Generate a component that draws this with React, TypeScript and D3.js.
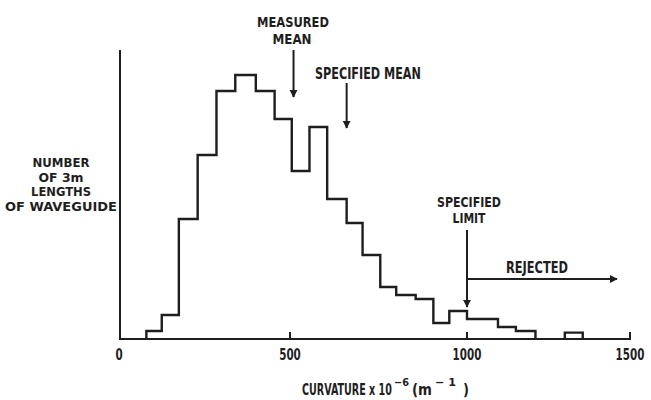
import { useLayoutEffect, useRef, useState } from "react";
import * as d3 from "d3";

// histogram bins: edges in curvature units (x10^-6 m^-1), counts
const binEdges = [80, 125, 175, 230, 285, 340, 400, 455, 505, 555, 605, 660, 705, 755, 800, 855, 905, 950, 1000, 1050, 1095, 1150, 1210];
const binCounts = [2, 6, 30, 46, 62, 66, 62, 55, 42, 53, 35, 29, 21, 13, 11, 10, 4, 7, 5, 5, 3, 2];
// lone bin far out in the tail
const tailEdges = [1300, 1355];
const tailCounts = [1.6];

const xTicks = [0, 500, 1000, 1500];
const yLabelLines = ["NUMBER", "OF 3m", "LENGTHS", "OF WAVEGUIDE"];

const measuredMean = 510;
const specifiedMean = 660;
const specifiedLimit = 1000;
const rejectedEnd = 1460;

const W = 651;
const H = 400;
const FONT = "'Liberation Sans Narrow', 'DejaVu Sans Condensed', 'Liberation Sans', sans-serif";
const INK = "#1e1e1e";

// scanned figure is slightly stretched, so the axis is piecewise
const x = d3.scaleLinear().domain(xTicks).range([119, 290, 467, 630]);
const y = d3.scaleLinear().domain([0, 72]).range([339, 51]);

const stepLine = d3
  .line<[number, number]>()
  .x(d => x(d[0]))
  .y(d => y(d[1]))
  .curve(d3.curveStepAfter);

function histPoints(edges: number[], counts: number[]): [number, number][] {
  const pts: [number, number][] = [[edges[0], 0]];
  counts.forEach((c, i) => pts.push([edges[i], c]));
  pts.push([edges[edges.length - 1], 0]);
  return pts;
}

// the original lettering is very condensed: squeeze each label to its measured width
const Label = (p: { x: number; y: number; w: number; text: string; anchor?: string; size?: number }) => {
  const ref = useRef<SVGTextElement>(null);
  const [k, setK] = useState(1);
  useLayoutEffect(() => {
    const len = ref.current ? ref.current.getComputedTextLength() : 0;
    if (len > 0) setK(p.w / len);
  }, [p.w, p.text, p.size]);
  return (
    <text
      ref={ref}
      transform={`translate(${p.x},${p.y}) scale(${k},1)`}
      textAnchor={p.anchor || "middle"}
      fontSize={p.size || 16}
    >
      {p.text}
    </text>
  );
};

export default function App() {
  const base = y(0);
  return (
    <svg
      width={W}
      height={H}
      style={{ position: "absolute", left: 0, top: 0, background: "#fff" }}
      fontFamily={FONT}
      fontWeight="bold"
      fill={INK}
    >
      <defs>
        <marker id="head" viewBox="0 0 10 10" refX="9" refY="5" markerWidth="4" markerHeight="4.5" orient="auto">
          <path d="M0,0 L10,5 L0,10 z" fill={INK} />
        </marker>
      </defs>

      {/* axes */}
      <line x1={120} x2={120} y1={50} y2={base + 1} stroke={INK} strokeWidth={2} />
      <line x1={119} x2={x(1500) + 1} y1={base} y2={base} stroke={INK} strokeWidth={2} />
      {xTicks.slice(1).map(t => (
        <line key={t} x1={x(t)} x2={x(t)} y1={base} y2={base - 7} stroke={INK} strokeWidth={2} />
      ))}
      {xTicks.map(t => (
        <Label key={t} x={x(t)} y={360} w={String(t).length * 7.2} text={String(t)} />
      ))}

      {/* histogram */}
      <path d={stepLine(histPoints(binEdges, binCounts)) || ""} fill="none" stroke={INK} strokeWidth={2.4} />
      <path d={stepLine(histPoints(tailEdges, tailCounts)) || ""} fill="none" stroke={INK} strokeWidth={2.4} />

      {/* y label */}
      {yLabelLines.map((t, i) => (
        <Label key={t} x={61} y={167 + i * 14.5} w={[57, 45, 60, 112][i]} text={t} size={12.3} />
      ))}

      {/* x label */}
      <Label x={302} y={395} w={90} text="CURVATURE x 10" anchor="start" />
      <Label x={394} y={386} w={15} text="−6" anchor="start" size={11} />
      <Label x={412} y={395} w={20} text="(m" anchor="start" />
      <Label x={435} y={386} w={21} text="− 1" anchor="start" size={11} />
      <Label x={463} y={395} w={6} text=")" anchor="start" />

      {/* annotations */}
      <Label x={293} y={27} w={72} text="MEASURED" size={14} />
      <Label x={292} y={43.5} w={39} text="MEAN" size={14} />
      <line x1={x(measuredMean)} x2={x(measuredMean)} y1={50} y2={97} stroke={INK} strokeWidth={2} markerEnd="url(#head)" />

      <Label x={315} y={79} w={106} text="SPECIFIED MEAN" anchor="start" />
      <line x1={x(specifiedMean)} x2={x(specifiedMean)} y1={83} y2={128} stroke={INK} strokeWidth={2} markerEnd="url(#head)" />

      <Label x={469} y={206.5} w={64} text="SPECIFIED" size={14} />
      <Label x={469} y={223} w={33} text="LIMIT" size={14} />
      <line x1={x(specifiedLimit)} x2={x(specifiedLimit)} y1={230} y2={307} stroke={INK} strokeWidth={2} markerEnd="url(#head)" />

      <Label x={537} y={273} w={62} text="REJECTED" />
      <line x1={x(specifiedLimit)} x2={x(rejectedEnd)} y1={279} y2={279} stroke={INK} strokeWidth={2} markerEnd="url(#head)" />
    </svg>
  );
}
